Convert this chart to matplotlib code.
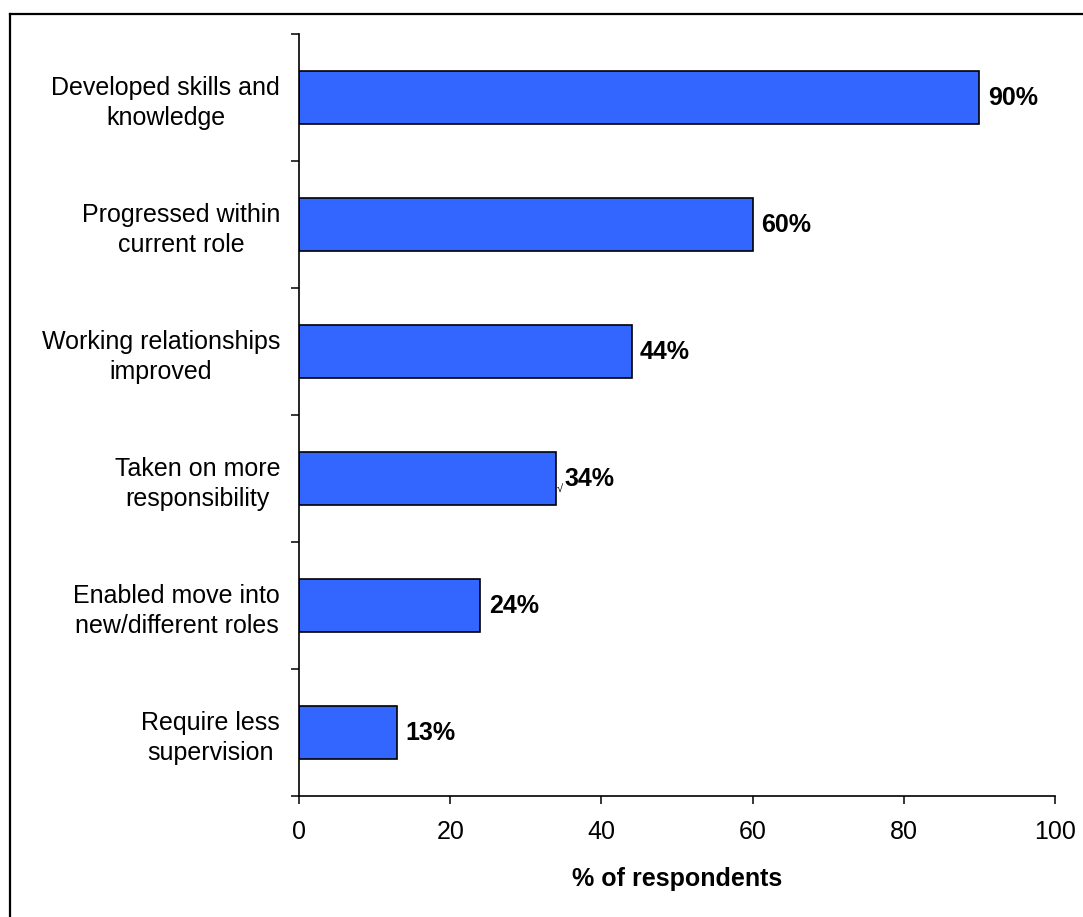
import numpy as np
import matplotlib
matplotlib.use("Agg")
import matplotlib.pyplot as plt
from matplotlib.lines import Line2D

# data, top to bottom as in the chart
categories = ["Developed skills and\nknowledge",
              "Progressed within\ncurrent role",
              "Working relationships\nimproved",
              "Taken on more\nresponsibility",
              "Enabled move into\nnew/different roles",
              "Require less\nsupervision"]
values = [90, 60, 44, 34, 24, 13]
x_ticks = [0, 20, 40, 60, 80, 100]

plt.rcParams['font.family'] = ['Liberation Sans', 'DejaVu Sans']

W, H = 1083, 917
fig = plt.figure(figsize=(W / 100, H / 100), dpi=100)
ax = fig.add_axes([299 / W, 1 - 796 / H, (1055 - 299) / W, (796 - 34) / H])

n = len(categories)
ypos = np.arange(n)[::-1]
ax.barh(ypos, values, height=0.41, color='#3366FF', edgecolor='black', linewidth=1.2)

for y, v in zip(ypos, values):
    ax.text(v + 1.1, y, f"{v}%", va='center', ha='left', fontsize=18, fontweight='bold')

# little stray mark seen next to the 34% label
ax.text(34 + 0.15, ypos[3] - 0.08, "\u221a", va='center', ha='left', fontsize=8)

ax.set_xlim(0, 100)
ax.set_ylim(-0.5, n - 0.5)
ax.set_xticks(x_ticks)
ax.set_xticklabels([str(t) for t in x_ticks], fontsize=18)
ax.set_xlabel("% of respondents", fontsize=18, fontweight='bold', labelpad=17)

# boundaries as major ticks, labels on minor ticks
ax.set_yticks(np.arange(-0.5, n, 1.0))
ax.set_yticklabels([])
ax.set_yticks(ypos, minor=True)
ax.set_yticklabels(categories, minor=True, fontsize=18, multialignment='center', linespacing=1.3)
ax.tick_params(axis='y', which='minor', length=0, pad=13.5)
ax.tick_params(axis='y', which='major', length=6, width=1.1, direction='out')
ax.tick_params(axis='x', length=6, width=1.1, direction='out', pad=11)

for s in ['top', 'right']:
    ax.spines[s].set_visible(False)
for s in ['left', 'bottom']:
    ax.spines[s].set_linewidth(1.2)

# outer frame (right and bottom edges fall outside the image)
fig.add_artist(Line2D([9.5 / W, 1.0], [1 - 13.5 / H, 1 - 13.5 / H], transform=fig.transFigure, color='black', linewidth=1.6))
fig.add_artist(Line2D([9.5 / W, 9.5 / W], [0.0, 1 - 13.5 / H], transform=fig.transFigure, color='black', linewidth=1.6))

fig.savefig("out.png", dpi=100, facecolor='white')
